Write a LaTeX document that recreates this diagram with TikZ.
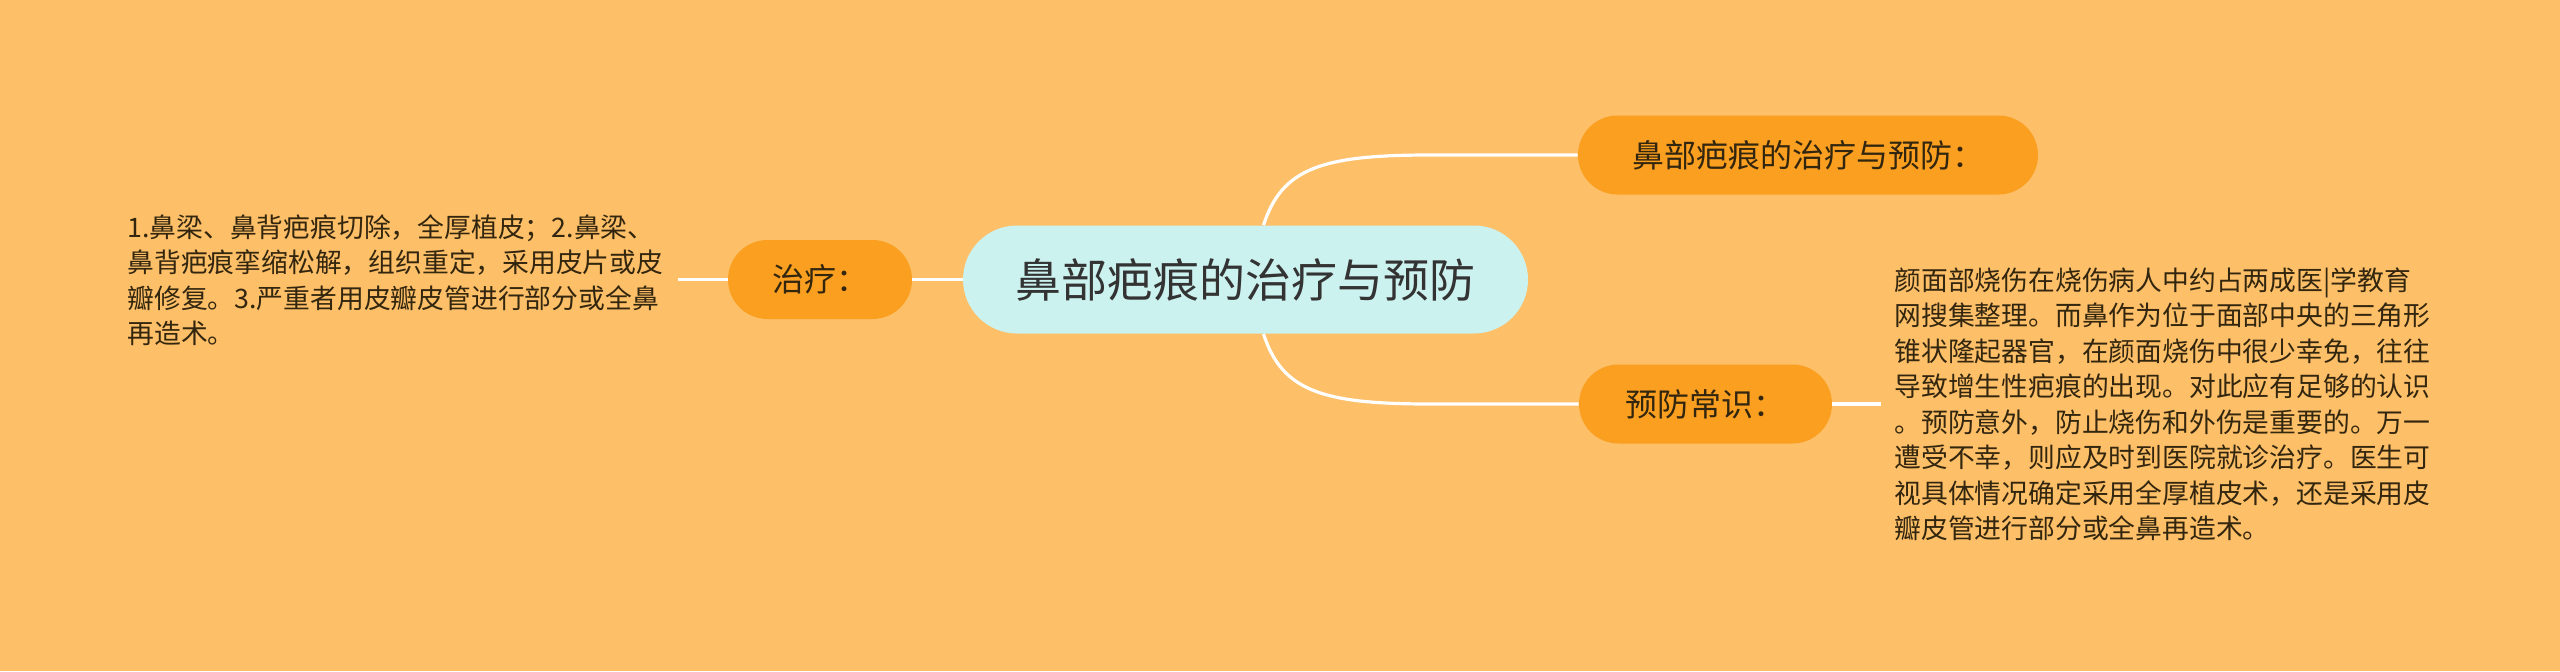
\documentclass[tikz,border=0pt]{standalone}
\usepackage{fontspec}
\setmainfont{Noto Sans CJK SC}
\usetikzlibrary{shapes.misc}
\definecolor{bg}{HTML}{FDBF68}
\definecolor{branch}{HTML}{FA9F20}
\definecolor{rootc}{HTML}{CCF2EF}
\definecolor{ink}{HTML}{333333}
\definecolor{bink}{HTML}{33260F}
\tikzset{
  rootnode/.style={rounded rectangle, fill=rootc, text=ink, minimum width=282.5pt, minimum height=54pt, inner sep=0pt, font=\fontsize{23pt}{27pt}\selectfont},
  branchnode/.style={rounded rectangle, fill=branch, text=bink, minimum height=39.5pt, inner sep=0pt, font=\fontsize{16pt}{19pt}\selectfont},
  detail/.style={inner sep=0pt, align=left, text=bink, font=\fontsize{13.4pt}{17.75pt}\selectfont},
  conn/.style={draw=white, line width=1.6pt}
}
\begin{document}
\begin{tikzpicture}[x=0.5pt,y=-0.5pt]
\fill[bg] (0,0) rectangle (2560,671);
\useasboundingbox (0,0) rectangle (2560,671);

\node[rootnode] (c) at (1245.5,279.5) {鼻部疤痕的治疗与预防};
\node[branchnode, minimum width=230pt] (t) at (1808,155) {鼻部疤痕的治疗与预防：};
\node[branchnode, minimum width=92pt] (z) at (820,279.5) {治疗：};
\node[branchnode, minimum width=126.5pt] (p) at (1705.5,404) {预防常识：};

\node[detail, anchor=west] (zt) at (127,280) {1.鼻梁、鼻背疤痕切除，全厚植皮；2.鼻梁、\\鼻背疤痕挛缩松解，组织重定，采用皮片或皮\\瓣修复。3.严重者用皮瓣皮管进行部分或全鼻\\再造术。};
\node[detail, anchor=west] (pt) at (1894,404) {颜面部烧伤在烧伤病人中约占两成医|学教育\\网搜集整理。而鼻作为位于面部中央的三角形\\锥状隆起器官，在颜面烧伤中很少幸免，往往\\导致增生性疤痕的出现。对此应有足够的认识\\。预防意外，防止烧伤和外伤是重要的。万一\\遭受不幸，则应及时到医院就诊治疗。医生可\\视具体情况确定采用全厚植皮术，还是采用皮\\瓣皮管进行部分或全鼻再造术。};

\coordinate (zl) at (678,279.5);
\coordinate (pr) at (1881,404);

\draw[conn] (c.west) -- (z.east);
\draw[conn] (z.west) -- (zl);
\draw[conn] (p.east) -- (pr);
\draw[conn] ([xshift=9pt]c.north) .. controls (1282,168) and (1322,155) .. (1430,155) -- (t.west);
\draw[conn] ([xshift=9pt]c.south) .. controls (1282,391) and (1322,404) .. (1430,404) -- (p.west);
\end{tikzpicture}
\end{document}
